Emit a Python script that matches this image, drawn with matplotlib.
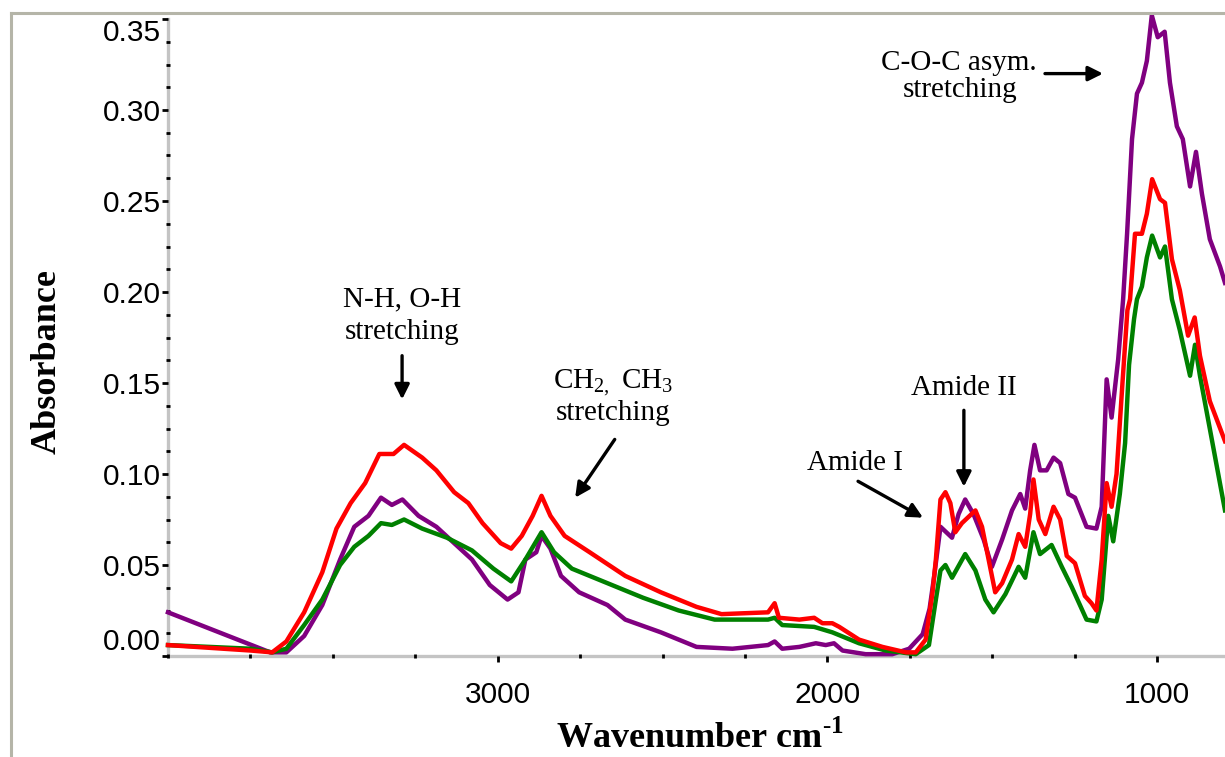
import matplotlib
matplotlib.use("Agg")
import matplotlib.pyplot as plt
from matplotlib.lines import Line2D
from matplotlib.ticker import MultipleLocator, FixedLocator
import numpy as np

plt.rcParams['mathtext.fontset'] = 'custom'
plt.rcParams['mathtext.rm'] = 'Liberation Serif'
plt.rcParams['mathtext.bf'] = 'Liberation Serif:bold'

# wavenumber (cm-1) / absorbance
wn_purple = [4000, 3690, 3641, 3587, 3532, 3478, 3435, 3392, 3354, 3321, 3289, 3240, 3186,
             3132, 3078, 3024, 2970, 2937, 2916, 2883, 2867, 2840, 2808, 2753, 2667, 2613,
             2505, 2397, 2288, 2180, 2160, 2137, 2085, 2035, 2005, 1980, 1954, 1884, 1803,
             1752, 1711, 1690, 1676, 1657, 1622, 1602, 1582, 1557, 1526, 1501, 1470, 1440,
             1415, 1400, 1385, 1372, 1355, 1335, 1314, 1294, 1269, 1249, 1214, 1184, 1168,
             1153, 1138, 1118, 1103, 1091, 1076, 1061, 1046, 1031, 1016, 998, 977, 961, 940,
             922, 900, 882, 864, 840, 809, 794]
abs_purple = [0.024, 0.002, 0.002, 0.011, 0.028, 0.053, 0.071, 0.077, 0.087, 0.083, 0.086,
              0.077, 0.071, 0.062, 0.053, 0.039, 0.031, 0.035, 0.053, 0.057, 0.066, 0.059,
              0.044, 0.035, 0.028, 0.020, 0.013, 0.005, 0.004, 0.006, 0.008, 0.004, 0.005,
              0.007, 0.006, 0.007, 0.003, 0.001, 0.001, 0.004, 0.012, 0.026, 0.044, 0.071,
              0.065, 0.078, 0.086, 0.078, 0.064, 0.049, 0.064, 0.080, 0.089, 0.081, 0.102,
              0.116, 0.102, 0.102, 0.109, 0.106, 0.089, 0.087, 0.071, 0.070, 0.082, 0.152,
              0.131, 0.163, 0.196, 0.232, 0.284, 0.309, 0.315, 0.327, 0.352, 0.340, 0.343,
              0.315, 0.291, 0.284, 0.258, 0.277, 0.254, 0.229, 0.214, 0.205]

wn_green = [4000, 3749, 3684, 3641, 3587, 3532, 3478, 3435, 3392, 3354, 3321, 3284, 3229,
            3154, 3078, 3013, 2959, 2916, 2867, 2829, 2775, 2667, 2559, 2451, 2342, 2180,
            2160, 2137, 2040, 1985, 1904, 1823, 1732, 1692, 1671, 1657, 1642, 1622, 1582,
            1551, 1521, 1496, 1460, 1420, 1400, 1375, 1355, 1320, 1289, 1259, 1214, 1184,
            1168, 1148, 1133, 1113, 1097, 1085, 1070, 1061, 1046, 1031, 1015, 991, 976, 955,
            931, 900, 885, 870, 834, 794]
abs_green = [0.006, 0.004, 0.002, 0.004, 0.017, 0.031, 0.050, 0.060, 0.066, 0.073, 0.072,
             0.075, 0.070, 0.065, 0.058, 0.048, 0.041, 0.053, 0.068, 0.057, 0.048, 0.040,
             0.032, 0.025, 0.020, 0.020, 0.021, 0.017, 0.016, 0.013, 0.007, 0.003, 0.001,
             0.006, 0.031, 0.047, 0.050, 0.043, 0.056, 0.047, 0.031, 0.024, 0.034, 0.049,
             0.043, 0.068, 0.056, 0.061, 0.049, 0.038, 0.020, 0.019, 0.031, 0.077, 0.063,
             0.089, 0.117, 0.160, 0.185, 0.196, 0.203, 0.219, 0.231, 0.219, 0.225, 0.196,
             0.179, 0.154, 0.171, 0.154, 0.119, 0.080]

wn_red = [4000, 3749, 3684, 3641, 3587, 3532, 3489, 3446, 3402, 3359, 3316, 3284, 3229,
          3186, 3132, 3089, 3046, 2991, 2959, 2927, 2894, 2867, 2840, 2797, 2721, 2613,
          2505, 2397, 2321, 2180, 2160, 2147, 2085, 2040, 2015, 1985, 1964, 1904, 1833,
          1762, 1732, 1702, 1681, 1671, 1657, 1642, 1627, 1612, 1592, 1551, 1531, 1511,
          1491, 1470, 1440, 1420, 1400, 1385, 1375, 1359, 1339, 1314, 1294, 1274, 1249,
          1219, 1199, 1184, 1168, 1153, 1138, 1123, 1105, 1090, 1082, 1067, 1046, 1031,
          1015, 991, 976, 955, 931, 906, 886, 870, 840, 794]
abs_red = [0.006, 0.003, 0.002, 0.008, 0.024, 0.046, 0.070, 0.084, 0.095, 0.111, 0.111,
           0.116, 0.109, 0.102, 0.090, 0.084, 0.073, 0.062, 0.059, 0.066, 0.077, 0.088,
           0.077, 0.066, 0.057, 0.044, 0.035, 0.027, 0.023, 0.024, 0.029, 0.021, 0.020,
           0.021, 0.018, 0.018, 0.016, 0.009, 0.005, 0.002, 0.002, 0.009, 0.035, 0.053,
           0.086, 0.090, 0.084, 0.068, 0.073, 0.080, 0.071, 0.053, 0.035, 0.040, 0.053,
           0.067, 0.060, 0.078, 0.097, 0.075, 0.067, 0.082, 0.075, 0.055, 0.051, 0.033,
           0.029, 0.025, 0.053, 0.095, 0.082, 0.100, 0.150, 0.190, 0.196, 0.232, 0.232,
           0.243, 0.262, 0.251, 0.249, 0.218, 0.201, 0.176, 0.186, 0.165, 0.140, 0.118]

y_ticks = [0.00, 0.05, 0.10, 0.15, 0.20, 0.25, 0.30, 0.35]
x_ticks = [3000, 2000, 1000]

fig = plt.figure(figsize=(12.25, 7.57), dpi=100)
ax = fig.add_axes([168 / 1225, 101 / 757, 1057 / 1225, 637 / 757])

ax.plot(wn_purple, abs_purple, color='#800080', lw=3.2, clip_on=False, solid_joinstyle='round')
ax.plot(wn_green, abs_green, color='#008000', lw=3.2, clip_on=False, solid_joinstyle='round')
ax.plot(wn_red, abs_red, color='#ff0000', lw=3.2, clip_on=False, solid_joinstyle='round')

ax.set_xlim(4000, 794)
ax.set_ylim(0, 0.35)

for s in ['top', 'right']:
    ax.spines[s].set_visible(False)
for s in ['left', 'bottom']:
    ax.spines[s].set_color('#c4c4c4')
    ax.spines[s].set_linewidth(2.4)
    ax.spines[s].set_zorder(1)   # keep the tick dots visible on top of the grey spine

ax.xaxis.set_major_locator(FixedLocator(x_ticks))
ax.xaxis.set_minor_locator(MultipleLocator(250))
ax.yaxis.set_major_locator(FixedLocator(y_ticks))
ax.yaxis.set_minor_locator(MultipleLocator(0.0125))
ax.set_xticklabels([str(t) for t in x_ticks])
ax.set_yticklabels(['%.2f' % t for t in y_ticks])

ax.tick_params(which='major', direction='out', length=4, width=2, color='black',
               labelsize=21.5, labelfontfamily='Liberation Sans')
ax.tick_params(axis='y', which='major', pad=1)
ax.tick_params(axis='x', which='major', pad=14)
ax.tick_params(which='minor', direction='inout', length=2.5, width=2, color='black')

# end labels are pushed inside the axis span, as in the original
ylabels = ax.get_yticklabels()
ylabels[0].set_verticalalignment('bottom')
ylabels[-1].set_verticalalignment('top')

fig.text(47 / 1225, 1 - 362 / 757, 'Absorbance', rotation=90, ha='center', va='center',
         fontsize=26, fontweight='bold', family='Liberation Serif')
fig.text(700 / 1225, 1 / 757, r'Wavenumber cm$^{\text{-}\mathbf{1}}$', ha='center', va='bottom',
         fontsize=26, fontweight='bold', family='Liberation Serif')

# annotations
tkw = dict(ha='center', va='center', fontsize=21, family='Liberation Serif')
akw = dict(arrowstyle='-|>', lw=2.4, color='black', mutation_scale=22, shrinkA=0, shrinkB=0)

ax.text(3290, 0.196, 'N-H, O-H', **tkw)
ax.text(3290, 0.178, 'stretching', **tkw)
ax.annotate('', xy=(3290, 0.141), xytext=(3290, 0.165), arrowprops=akw)

ax.text(2650, 0.150, r'CH$_{2,}$ CH$_{3}$', **tkw)
ax.text(2650, 0.1335, 'stretching', **tkw)
ax.annotate('', xy=(2765, 0.087), xytext=(2645, 0.119), arrowprops=akw)

ax.text(1916, 0.106, 'Amide I', **tkw)
ax.annotate('', xy=(1710, 0.076), xytext=(1907, 0.096), arrowprops=akw)

ax.text(1586, 0.147, 'Amide II', **tkw)
ax.annotate('', xy=(1586, 0.093), xytext=(1586, 0.135), arrowprops=akw)

ax.text(1601, 0.326, 'C-O-C asym.', **tkw)
ax.text(1598, 0.311, 'stretching', **tkw)
ax.annotate('', xy=(1164, 0.320), xytext=(1340, 0.320), arrowprops=akw)

# grey frame around the figure (left and top edges visible)
frame_c = '#b5b5a8'
fig.add_artist(Line2D([11 / 1225, 11 / 1225], [0, 1 - 13 / 757], color=frame_c, lw=2.2,
                      transform=fig.transFigure))
fig.add_artist(Line2D([11 / 1225, 1], [1 - 13 / 757, 1 - 13 / 757], color=frame_c, lw=2.2,
                      transform=fig.transFigure))

fig.savefig('out.png', dpi=100)
